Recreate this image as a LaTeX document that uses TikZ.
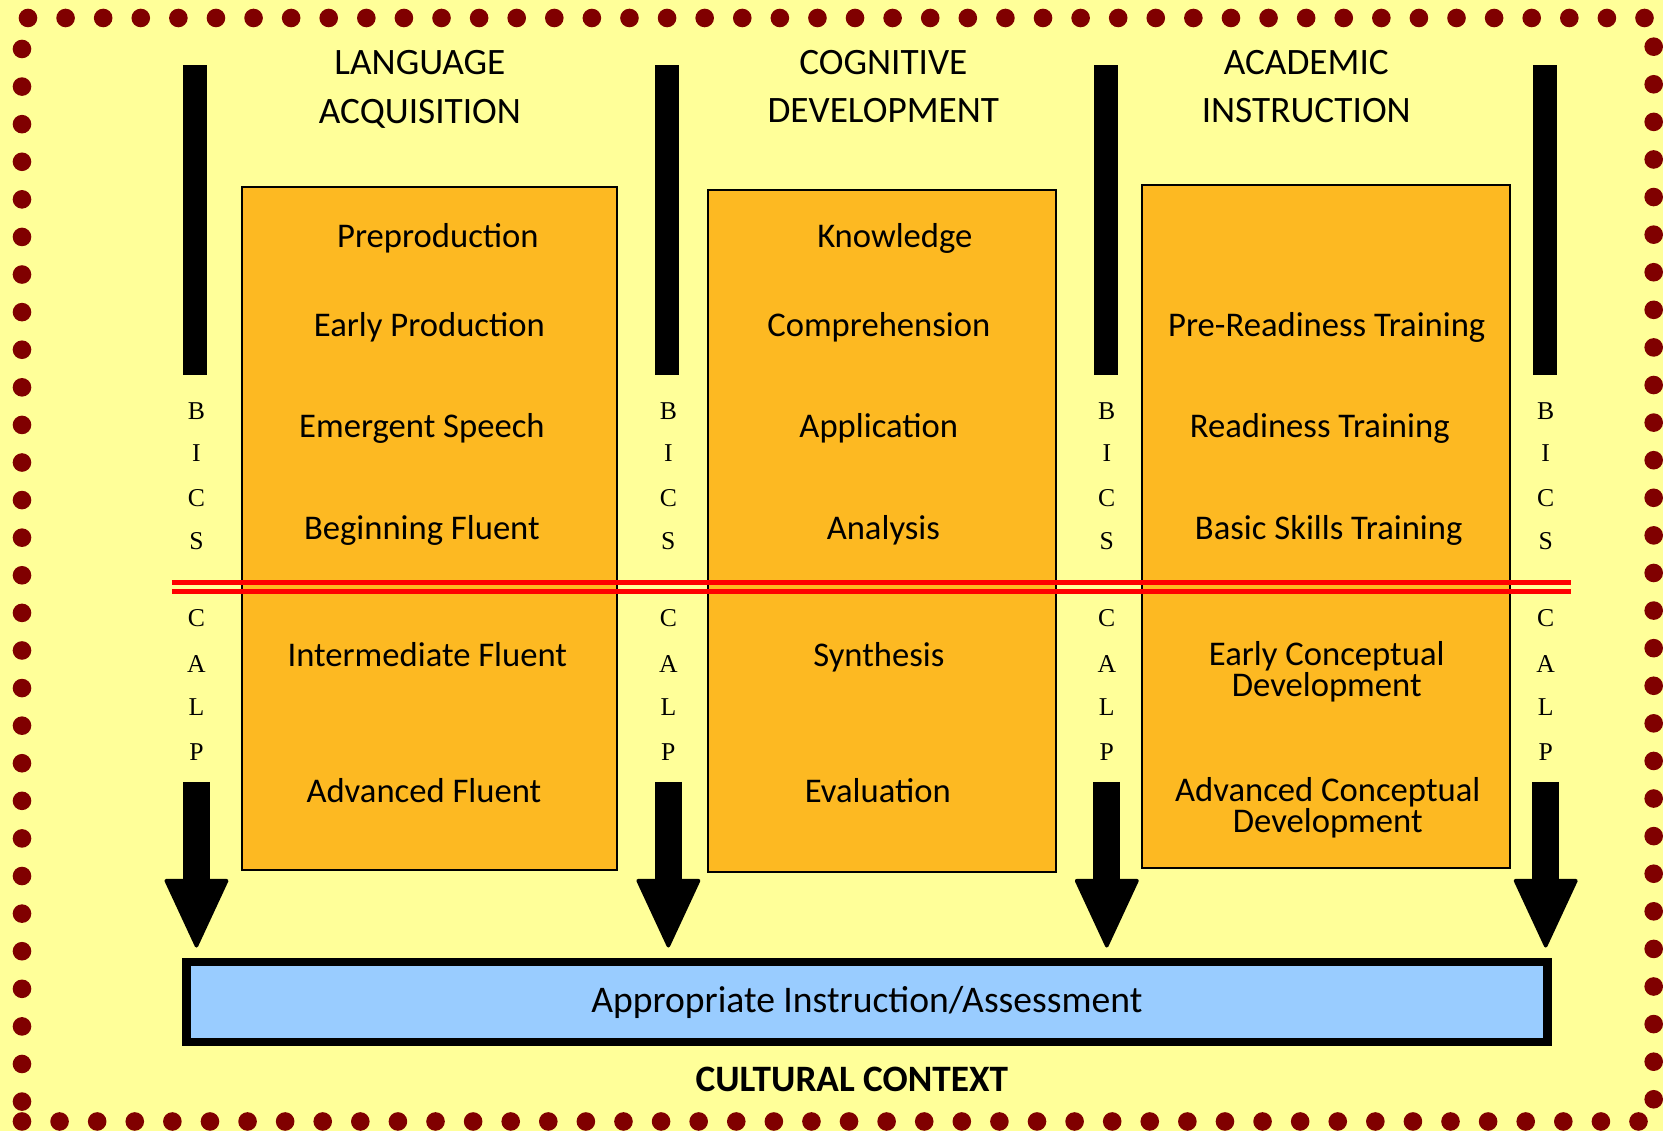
\documentclass[tikz,border=0pt]{standalone}
\usepackage{fontspec}
\setmainfont{Carlito}
\newfontfamily\bicsfont{Liberation Serif}
\usetikzlibrary{arrows.meta}

\definecolor{paper}{RGB}{255,255,153}
\definecolor{dotred}{RGB}{128,0,0}
\definecolor{stagefill}{RGB}{253,185,34}
\definecolor{basefill}{RGB}{153,204,255}

\begin{document}
\setlength{\lineskiplimit}{-5pt}
\begin{tikzpicture}[
  x=0.01cm, y=-0.01cm,
  stage/.style={draw, fill=stagefill, line width=0.02cm, inner sep=0, minimum height=6.82cm},
  head/.style={align=center, inner sep=0, font=\fontsize{10.6}{13.8}\selectfont},
  item/.style={align=center, inner sep=0, anchor=base, font=\fontsize{9.85}{8.8}\selectfont},
  item2/.style={item, anchor=center},
  bics/.style={inner sep=0, font=\bicsfont\fontsize{7.3}{7.3}\selectfont},
  dot/.style={fill=dotred},
  divider/.style={red, line width=0.05cm},
  down/.style={line width=0.27cm, shorten >=0.1cm,
               -{Triangle[width=0.65cm, length=0.71cm, line width=1pt, round]}},
  base/.style={draw, fill=basefill, line width=0.085cm, inner sep=0, minimum width=13.605cm,
               minimum height=0.8cm, text height=0.7em, text depth=0.12em,
               font=\fontsize{10.7}{10.7}\selectfont}
]
\fill[paper] (0,0) rectangle (1663,1131);

% dotted frame
\foreach \i in {0,...,43} {
  \fill[dot] ({28+37.6*\i},18) circle[radius=0.093cm];
  \fill[dot] ({22+37.6*\i},1121.7) circle[radius=0.093cm];
}
\foreach \i in {0,...,28} {
  \fill[dot] (22,{49+37.6*\i}) circle[radius=0.093cm];
  \fill[dot] (1654,{46.7+37.6*\i}) circle[radius=0.093cm];
}

% BICS / CALP columns
\foreach \x in {195,667.6,1106,1545}
  \fill ({\x-12},65) rectangle ({\x+12},375);
\foreach \x/\n in {196.5/1,668.5/2,1107/3,1546/4} {
  \foreach \l/\y in {B/411.7,I/453.3,C/498.3,S/541.7,C/618,A/664,L/707,P/752}
    \node[bics] (bics\n-\y) at (\x,\y) {\l};
  \coordinate (a\n) at (\x,782);
}

\node[head] (langhead) at (420,89.5) {LANGUAGE\\ACQUISITION};
\node[head] (cognhead) at (883.5,86.5) {COGNITIVE\\DEVELOPMENT};
\node[head] (acadhead) at (1306.5,86.5) {ACADEMIC\\INSTRUCTION};

\node[stage, minimum width=3.755cm] (lang) at (429.5,528.7) {};
\node[stage, minimum width=3.48cm] (cogn) at (882.5,530.8) {};
\node[stage, minimum width=3.68cm] (acad) at (1326.3,526.6) {};

\draw[divider] (172,582.5) -- (1571,582.5);
\draw[divider] (172,592) -- (1571,592);

\node[item] (preprod) at (438,248) {Preproduction};
\node[item] (earlyprod) at (429.5,337) {Early Production};
\node[item] (emergent) at (422,437.8) {Emergent Speech};
\node[item] (beginfl) at (422,539.5) {Beginning Fluent};
\node[item] (interfl) at (427.4,667) {Intermediate Fluent};
\node[item] (advfl) at (424,802.5) {Advanced Fluent};

\node[item] (knowl) at (895,248) {Knowledge};
\node[item] (compr) at (879,337) {Comprehension};
\node[item] (applic) at (879,437.8) {Application};
\node[item] (analys) at (883.5,539.5) {Analysis};
\node[item] (synth) at (879,667) {Synthesis};
\node[item] (evalu) at (878,802.5) {Evaluation};

\node[item] (prered) at (1327,337) {Pre-Readiness Training};
\node[item] (ready) at (1320,437.8) {Readiness Training};
\node[item] (basic) at (1329,539.5) {Basic Skills Training};
\node[item2] (earlyconc) at (1327,672) {Early Conceptual\\Development};
\node[item2] (advconc) at (1328,807.5) {Advanced Conceptual\\Development};

\node[base] (appr) at (867,1002) {Appropriate Instruction/Assessment};
\node[inner sep=0, font=\fontsize{10.6}{10.6}\selectfont\bfseries] (culture) at (852,1080) {CULTURAL CONTEXT};

\foreach \n in {1,...,4}
  \draw[down] (a\n) -- (a\n |- appr.north);
\end{tikzpicture}
\end{document}
